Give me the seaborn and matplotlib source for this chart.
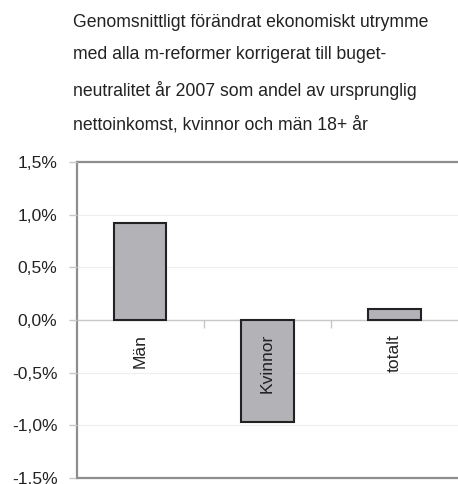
import matplotlib
matplotlib.use("Agg")
import matplotlib.pyplot as plt
import seaborn as sns
import pandas as pd
from matplotlib.ticker import FuncFormatter, FixedLocator

categories = ["Män", "Kvinnor", "totalt"]
values = [0.92, -0.97, 0.10]  # percent
yticks = [-1.5, -1.0, -0.5, 0.0, 0.5, 1.0, 1.5]
title = ("Genomsnittligt förändrat ekonomiskt utrymme\n"
         "med alla m-reformer korrigerat till buget-\n"
         "neutralitet år 2007 som andel av ursprunglig\n"
         "nettoinkomst, kvinnor och män 18+ år")

sns.set_theme(style="white")
plt.rcParams["font.family"] = ["Liberation Sans", "DejaVu Sans"]

df = pd.DataFrame({"kat": categories, "val": values})

fig = plt.figure(figsize=(4.58, 4.84), dpi=100)
ax = fig.add_axes([0.168, 0.0124, 0.832, 0.653])

sns.barplot(data=df, x="kat", y="val", color="#b3b3b7", edgecolor="#222222",
            linewidth=1.5, width=0.41, saturation=1, ax=ax, zorder=2)

ax.set_ylim(-1.5, 1.5)
ax.set_xlim(-0.5, len(categories) - 0.5)
ax.set_xlabel("")
ax.set_ylabel("")

# y axis
ax.yaxis.set_major_locator(FixedLocator(yticks))
ax.yaxis.set_major_formatter(FuncFormatter(lambda v, p: f"{v:.1f}%".replace(".", ",")))
ax.tick_params(axis="y", which="major", length=6, width=1, color="#c8c8c8",
               pad=8, labelsize=12.6, labelcolor="#222222", left=True)
ax.grid(False)
for y in yticks:
    ax.axhline(y, color="#eeeeee", linewidth=0.8, zorder=0)
ax.set_axisbelow(False)

# x axis at zero
ax.spines["bottom"].set_position(("data", 0))
ax.spines["bottom"].set_color("#c8c8c8")
ax.spines["bottom"].set_linewidth(1)
ax.spines["bottom"].set_zorder(1)
ax.spines["right"].set_visible(False)
for s in ["left", "top"]:
    ax.spines[s].set_color("#8e8e8e")
    ax.spines[s].set_linewidth(1.6)
ax.axhline(-1.5, color="#8e8e8e", linewidth=1.6, clip_on=False, zorder=3)

n = len(categories)
ax.xaxis.set_major_locator(FixedLocator([i + 0.5 for i in range(n - 1)]))
ax.xaxis.set_major_formatter(FuncFormatter(lambda v, p: ""))
ax.xaxis.set_minor_locator(FixedLocator(list(range(n))))
ax.set_xticklabels(categories, minor=True)
ax.tick_params(axis="x", which="major", length=6, width=1, color="#c8c8c8",
               direction="out", bottom=True)
ax.tick_params(axis="x", which="minor", length=0, pad=10, labelsize=12.6,
               labelrotation=90, labelcolor="#222222", bottom=True)
for lbl in ax.get_xticklabels(minor=True):
    lbl.set_verticalalignment("top")

fig.text(0.159, 0.972, title, ha="left", va="top", fontsize=12.7,
         color="#222222", linespacing=2.2)

fig.savefig("out.png", dpi=100)
